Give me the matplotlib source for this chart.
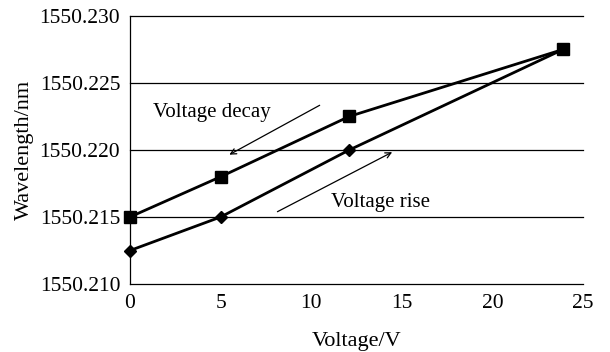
import matplotlib.pyplot as plt
import numpy as np

plt.rcParams['font.family'] = ['Liberation Serif', 'DejaVu Serif']

voltage = [0, 5, 12.1, 23.9]
wl_decay = [1550.2150, 1550.2180, 1550.2225, 1550.2275]
wl_rise = [1550.2125, 1550.2150, 1550.2200, 1550.2275]
yticks = [1550.210, 1550.215, 1550.220, 1550.225, 1550.230]
xticks = [0, 5, 10, 15, 20, 25]

fig = plt.figure(figsize=(6.1, 3.52), dpi=100)
ax = fig.add_axes([0.213, 0.193, 0.743, 0.762])

for y in yticks:
    ax.axhline(y, color='black', lw=0.9, zorder=1, clip_on=False)

ax.plot(voltage, wl_decay, 'ks-', lw=2, ms=9, zorder=3, clip_on=False)
ax.plot(voltage, wl_rise, 'kD-', lw=2, ms=6.5, zorder=3, clip_on=False)

# direction arrows
ax.annotate('', xy=(5.35, 1550.21955), xytext=(10.6, 1550.22343),
            arrowprops=dict(arrowstyle='->', color='black', lw=0.9))
ax.annotate('', xy=(14.6, 1550.21993), xytext=(8.0, 1550.2153),
            arrowprops=dict(arrowstyle='->', color='black', lw=0.9))
ax.text(1.3, 1550.2228, 'Voltage decay', fontsize=15, va='center', ha='left')
ax.text(11.1, 1550.2161, 'Voltage rise', fontsize=15, va='center', ha='left')

ax.set_xlim(0, 25)
ax.set_ylim(1550.210, 1550.230)
ax.set_xticks(xticks)
ax.set_yticks(yticks)
ax.set_yticklabels(['%.3f' % y for y in yticks])
ax.tick_params(length=0, labelsize=15.5, pad=7)
for s in ['top', 'right', 'bottom']:
    ax.spines[s].set_visible(False)
ax.spines['left'].set_linewidth(0.9)

ax.set_xlabel('Voltage/V', fontsize=16, labelpad=14)
ax.set_ylabel('Wavelength/nm', fontsize=16, labelpad=4)

plt.savefig('out.png', dpi=100)
